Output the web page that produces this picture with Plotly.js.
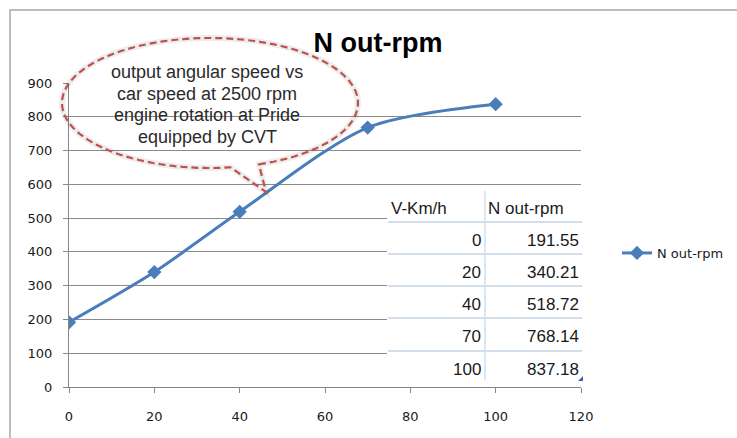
<!DOCTYPE html>
<html>
<head>
<meta charset="utf-8">
<script src="https://cdn.plot.ly/plotly-3.0.1.min.js"></script>
<style>
html,body{margin:0;padding:0;background:#fff;}
#chart{width:737px;height:438px;}
</style>
</head>
<body>
<div id="chart"></div>
<script>
// ---- data ----
var speedKmh = [0, 20, 40, 70, 100];
var nOutRpm = [191.55, 340.21, 518.72, 768.14, 837.18];
var seriesName = 'N out-rpm';
var tableHeaders = ['V-Km/h', 'N out-rpm'];
var xTicks = [0, 20, 40, 60, 80, 100, 120];
var yTicks = [0, 100, 200, 300, 400, 500, 600, 700, 800, 900];
var calloutLines = ['output angular speed vs', 'car speed at 2500 rpm', 'engine rotation at Pride', 'equipped by CVT'];

// ---- geometry helpers (pixel -> paper) ----
var ML = 69, MR = 156, MT = 83, MB = 51, FW = 737, FH = 438;
var PW = FW - ML - MR, PH = FH - MT - MB, PB = FH - MB;
function px(X){ return (X - ML) / PW; }
function py(Y){ return (PB - Y) / PH; }
function pt(X, Y){ return px(X).toFixed(5) + ',' + py(Y).toFixed(5); }

// callout path: ellipse with tail
function calloutPath(cx, cy, rx, ry, aStart, aEnd, tipX, tipY){
  var s = '';
  var first = true;
  for (var a = aStart; a >= aEnd; a -= 3){
    var r = a * Math.PI / 180;
    var X = cx + rx * Math.cos(r), Y = cy + ry * Math.sin(r);
    s += (first ? 'M' : ' L') + pt(X, Y);
    first = false;
  }
  var re = aEnd * Math.PI / 180;
  s += ' L' + pt(cx + rx * Math.cos(re), cy + ry * Math.sin(re));
  s += ' L' + pt(tipX, tipY) + ' Z';
  return s;
}
var cPath = calloutPath(210, 103, 148, 65, 70.7, 82 - 360, 266, 192);

var shapes = [
  // outer chart border
  {type:'rect', xref:'paper', yref:'paper', x0:px(10), x1:px(900), y0:py(900), y1:py(10),
   line:{color:'#a6a6a6', width:1.5}, fillcolor:'rgba(0,0,0,0)', layer:'below'},
  // callout shadow
  {type:'path', xref:'paper', yref:'paper', path:cPath, line:{color:'rgba(0,0,0,0.07)', width:6}, layer:'above'},
  // callout dashed outline
  {type:'path', xref:'paper', yref:'paper', path:cPath, line:{color:'#c0504d', width:2.2, dash:'7px,4px'}, layer:'above'},
  // table background
  {type:'rect', xref:'paper', yref:'paper', x0:px(387), x1:px(582), y0:py(383), y1:py(188),
   fillcolor:'#ffffff', line:{width:0}, layer:'above'},
  // table column separator
  {type:'line', xref:'paper', yref:'paper', x0:px(485), x1:px(485), y0:py(380), y1:py(191),
   line:{color:'#c9d6e8', width:1.2}, layer:'above'}
];
var rowLinesY = [222, 254, 286, 318, 351];
rowLinesY.forEach(function(Y){
  shapes.push({type:'line', xref:'paper', yref:'paper', x0:px(388), x1:px(582), y0:py(Y), y1:py(Y),
    line:{color:'#d3deec', width:2}, layer:'above'});
});
// small blue corner handle
shapes.push({type:'path', xref:'paper', yref:'paper',
  path:'M'+pt(583,376)+' L'+pt(583,381)+' L'+pt(578,381)+' Z',
  fillcolor:'#3d5fc0', line:{width:0}, layer:'above'});

var tblFont = {family:'Liberation Sans, Arial, sans-serif', size:17, color:'#1a1a1a'};
var annotations = [];
calloutLines.forEach(function(line, i){
  annotations.push({xref:'paper', yref:'paper', x:px(207), y:py(72 + i * 21.7), xanchor:'center', yanchor:'middle',
    text:line, showarrow:false, font:{family:'Liberation Sans, Arial, sans-serif', size:18, color:'#2a2a2a'}});
});
annotations.push({xref:'paper', yref:'paper', x:px(389), y:py(208), xanchor:'left', yanchor:'middle',
   text:tableHeaders[0], showarrow:false, font:tblFont});
annotations.push({xref:'paper', yref:'paper', x:px(486), y:py(208), xanchor:'left', yanchor:'middle',
   text:tableHeaders[1], showarrow:false, font:tblFont});
var rowCentersY = [240, 272, 304, 336, 369];
speedKmh.forEach(function(v, i){
  annotations.push({xref:'paper', yref:'paper', x:px(483), y:py(rowCentersY[i]), xanchor:'right', yanchor:'middle',
    text:String(v), showarrow:false, font:tblFont});
  annotations.push({xref:'paper', yref:'paper', x:px(581), y:py(rowCentersY[i]), xanchor:'right', yanchor:'middle',
    text:nOutRpm[i].toFixed(2), showarrow:false, font:tblFont});
});

var trace = {
  x: speedKmh, y: nOutRpm, name: seriesName, type:'scatter', mode:'lines+markers',
  line:{color:'#4a7ebb', width:3, shape:'spline', smoothing:0.8},
  marker:{symbol:'diamond', size:11, color:'#4a7ebb'}
};

var axisFont = {family:'DejaVu Sans, sans-serif', size:13, color:'#1a1a1a'};
var layout = {
  width:FW, height:FH,
  margin:{l:ML, r:MR, t:MT, b:MB, pad:0, autoexpand:false},
  paper_bgcolor:'#ffffff', plot_bgcolor:'#ffffff',
  title:{text:'N out-rpm', font:{family:'Liberation Sans, Arial, sans-serif', size:27, color:'#000', weight:'bold'},
    x:378/FW, xref:'container', xanchor:'center', y:1 - 43/FH, yref:'container', yanchor:'middle'},
  xaxis:{range:[0,120], tickvals:xTicks, ticktext:xTicks.map(String), showgrid:false, zeroline:false,
    showline:true, linecolor:'#868686', linewidth:1, ticks:'outside', ticklen:5, tickcolor:'#868686',
    tickfont:axisFont, ticklabelstandoff:12, fixedrange:true, automargin:false},
  yaxis:{range:[0,900], tickvals:yTicks, ticktext:yTicks.map(String), showgrid:true, gridcolor:'#8a8a8a', gridwidth:1,
    zeroline:false, showline:true, linecolor:'#868686', linewidth:1, ticks:'outside', ticklen:5, tickcolor:'#868686',
    tickfont:axisFont, ticklabelstandoff:8, fixedrange:true, automargin:false},
  showlegend:true,
  legend:{x:px(617), y:py(253), xanchor:'left', yanchor:'middle', bgcolor:'rgba(0,0,0,0)',
    font:{family:'DejaVu Sans, sans-serif', size:13, color:'#1a1a1a'}},
  shapes:shapes,
  annotations:annotations
};

Plotly.newPlot('chart', [trace], layout, {displayModeBar:false, staticPlot:true});
</script>
</body>
</html>
